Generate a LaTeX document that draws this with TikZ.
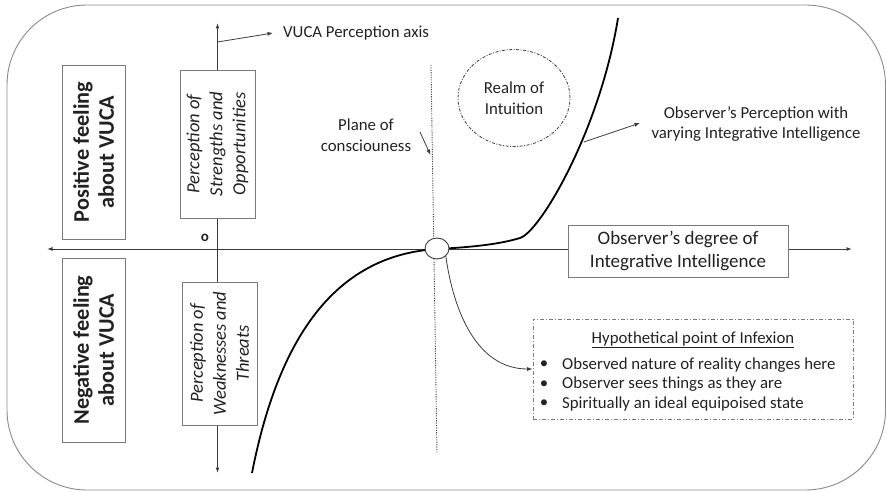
\documentclass[tikz,border=0pt]{standalone}
\usepackage{fontspec}
\setmainfont{Carlito}
\usetikzlibrary{arrows.meta,shapes.geometric}
\definecolor{ink}{HTML}{222222}
\definecolor{axisgray}{HTML}{3C3C3C}
\definecolor{boxgray}{HTML}{7A7A7A}
\definecolor{framegray}{HTML}{8A8A8A}
\tikzset{
  small/.style={font=\fontsize{16.8}{20.5}\selectfont, text=ink},
  tip/.style={-{Latex[length=5.5pt,width=4pt]}},
  twotips/.style={{Latex[length=5.5pt,width=4pt]}-{Latex[length=5.5pt,width=4pt]}},
  axisline/.style={draw=axisgray, line width=1pt},
  thinarrow/.style={draw=axisgray, line width=0.8pt, tip},
  feelbox/.style={draw=boxgray, line width=0.9pt, fill=white, rotate=90,
    minimum height=63pt, inner sep=0pt, align=center, text=ink,
    font=\fontsize{22.3}{25}\selectfont\bfseries},
  percbox/.style={draw=boxgray, line width=0.9pt, fill=white, rotate=90,
    minimum height=75pt, inner sep=0pt, align=center, text=ink,
    font=\fontsize{18.5}{23}\selectfont\itshape},
}
\begin{document}
\begin{tikzpicture}[x=1pt,y=-1pt]
\useasboundingbox (0,0) rectangle (887,492);

% outer frame
\draw[draw=framegray, line width=0.9pt, rounded corners=80pt] (7,5) rectangle (885.5,490);

% axes
\coordinate (xl) at (47,249);
\coordinate (xr) at (852,249);
\coordinate (yt) at (217.5,23);
\coordinate (yb) at (217.5,473);
\draw[axisline, twotips] (xl) -- (xr);
\draw[axisline, twotips] (yt) -- (yb);

% plane of consciousness
\coordinate (pt) at (431,65);
\coordinate (pb) at (437,453);
\draw[draw=axisgray, line width=0.9pt, dash pattern=on 1.1pt off 1.3pt] (pt) -- (pb);

% observer's perception curve
\coordinate (cs) at (252,473);
\coordinate (ce) at (618,18);
\draw[black, line width=1.8pt] (cs) .. controls (280,330) and (340,255) .. (437,249)
  .. controls (475,247) and (500,244) .. (520,238)
  .. controls (540,232) and (600,130) .. (ce);

% point of inflexion
\node[ellipse, draw=axisgray, line width=0.9pt, fill=white, minimum width=24pt,
  minimum height=21pt, inner sep=0pt] (ip) at (437,248.5) {};

% boxes on the vertical axis
\node[feelbox, minimum width=174pt] (pos) at (93.5,152) {Positive feeling\\about VUCA};
\node[feelbox, minimum width=184pt] (neg) at (93.5,350) {Negative feeling\\about VUCA};
\node[percbox, minimum width=148pt] (str) at (217.5,144) {Perception of\\Strengths and\\Opportunities};
\node[percbox, minimum width=143pt] (weak) at (219.5,353.5) {Perception of\\Weaknesses and\\Threats};
\node[small, font=\fontsize{15}{18}\selectfont\bfseries, inner sep=0pt] (orig) at (205,238) {o};

% box on the horizontal axis
\node[draw=boxgray, line width=0.9pt, fill=white, minimum width=220pt, minimum height=52pt,
  inner sep=0pt, align=center, text=ink, font=\fontsize{19}{23}\selectfont]
  (deg) at (678,251) {Observer’s degree of\\Integrative Intelligence};

% label of the vertical axis
\coordinate (va) at (217.5,42);
\node[small, anchor=west, inner xsep=10pt, inner ysep=0pt] (vuca) at (273,33) {VUCA Perception axis};
\draw[thinarrow] (va) -- (vuca.west);

% plane label
\node[small, align=center] (plane) at (366,135) {Plane of\\consciouness};
\coordinate (pa1) at (420,132);
\coordinate (pa2) at (430.5,155);
\draw[thinarrow] (pa1) -- (pa2);

% realm of intuition
\node[ellipse, draw=axisgray, line width=0.8pt, dash pattern=on 3pt off 1.5pt on 1pt off 1.5pt,
  minimum width=112pt, minimum height=97pt, inner sep=0pt, small, align=center]
  (realm) at (514,98) {Realm of\\Intuition};

% perception label
\coordinate (cp) at (584,142);
\coordinate (cpa) at (640,123);
\node[small, align=center] (obsp) at (756,124) {Observer’s Perception with\\varying Integrative Intelligence};
\draw[thinarrow] (cp) -- (cpa);

% inflexion notes
\node[draw=boxgray, line width=0.8pt, dash pattern=on 4pt off 2pt on 1pt off 2pt,
  minimum width=320pt, minimum height=100pt, inner sep=0pt] (hyp) at (693,369) {};
\node[small] (hypt) at (693,340) {\underline{Hypothetical point of Infexion}};
\node[small, anchor=west, inner sep=0pt] (b1) at (562,365) {Observed nature of reality changes here};
\node[small, anchor=west, inner sep=0pt] (b2) at (562,384.5) {Observer sees things as they are};
\node[small, anchor=west, inner sep=0pt] (b3) at (562,404) {Spiritually an ideal equipoised state};
\node[small, inner sep=0pt] (d1) at (544,365) {•};
\node[small, inner sep=0pt] (d2) at (544,384.5) {•};
\node[small, inner sep=0pt] (d3) at (544,404) {•};
\draw[thinarrow] (ip.south east) to[out=-82, in=180] (hyp.west);

\end{tikzpicture}
\end{document}
